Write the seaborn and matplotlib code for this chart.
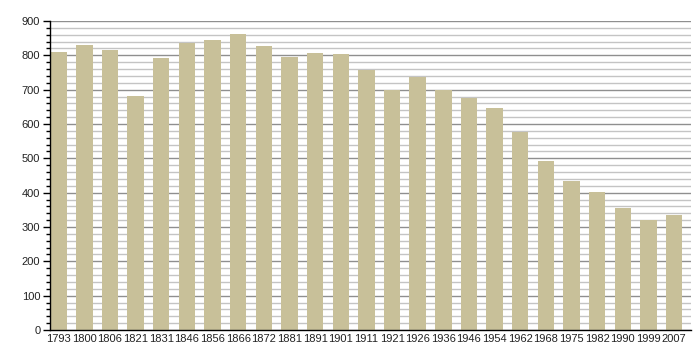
import matplotlib
matplotlib.use("Agg")
import matplotlib.pyplot as plt
import seaborn as sns
import pandas as pd
from matplotlib.ticker import MultipleLocator

years = ["1793", "1800", "1806", "1821", "1831", "1846", "1856", "1866", "1872",
         "1881", "1891", "1901", "1911", "1921", "1926", "1936", "1946", "1954",
         "1962", "1968", "1975", "1982", "1990", "1999", "2007"]
population = [809, 830, 815, 681, 791, 836, 844, 861, 826,
              795, 806, 803, 757, 700, 738, 700, 676, 647,
              578, 492, 434, 402, 355, 320, 336]

sns.set_theme(style="white")
plt.rcParams['font.family'] = ['Liberation Sans', 'DejaVu Sans']

df = pd.DataFrame({"year": years, "pop": population})

fig = plt.figure(figsize=(7, 3.6), dpi=100)
ax = fig.add_axes([50/700, 30/360, 641/700, 309/360])

sns.barplot(data=df, x="year", y="pop", color="#C8C099", saturation=1,
            width=0.64, ax=ax, edgecolor="none", linewidth=0)
for p in ax.patches:
    p.set_zorder(5)
    p.set_alpha(1)

ax.set_ylim(0, 900)
ax.set_xlim(-0.34, 24.66)
ax.yaxis.set_major_locator(MultipleLocator(100))
ax.yaxis.set_minor_locator(MultipleLocator(20))
ax.set_axisbelow(True)
ax.grid(True, axis="y", which="major", color="#8f8f8f", linewidth=1.0)
ax.grid(True, axis="y", which="minor", color="#c4c4c4", linewidth=1.0)
for gl in ax.yaxis.get_gridlines() + ax.yaxis.get_minorticklines():
    pass

for s in ["top", "right"]:
    ax.spines[s].set_visible(False)
for s in ["left", "bottom"]:
    ax.spines[s].set_visible(True)
    ax.spines[s].set_color("black")
    ax.spines[s].set_linewidth(1.0)
    ax.spines[s].set_zorder(6)

ax.tick_params(axis="y", which="major", direction="out", length=5, width=1,
               color="black", labelsize=8, labelcolor="#222222", pad=2, left=True)
ax.tick_params(axis="y", which="minor", direction="out", length=3, width=1,
               color="black", left=True)
ax.tick_params(axis="x", which="both", length=0, labelsize=8,
               labelcolor="#222222", pad=3)
ax.set_xlabel("")
ax.set_ylabel("")

fig.savefig("out.png", dpi=100)
